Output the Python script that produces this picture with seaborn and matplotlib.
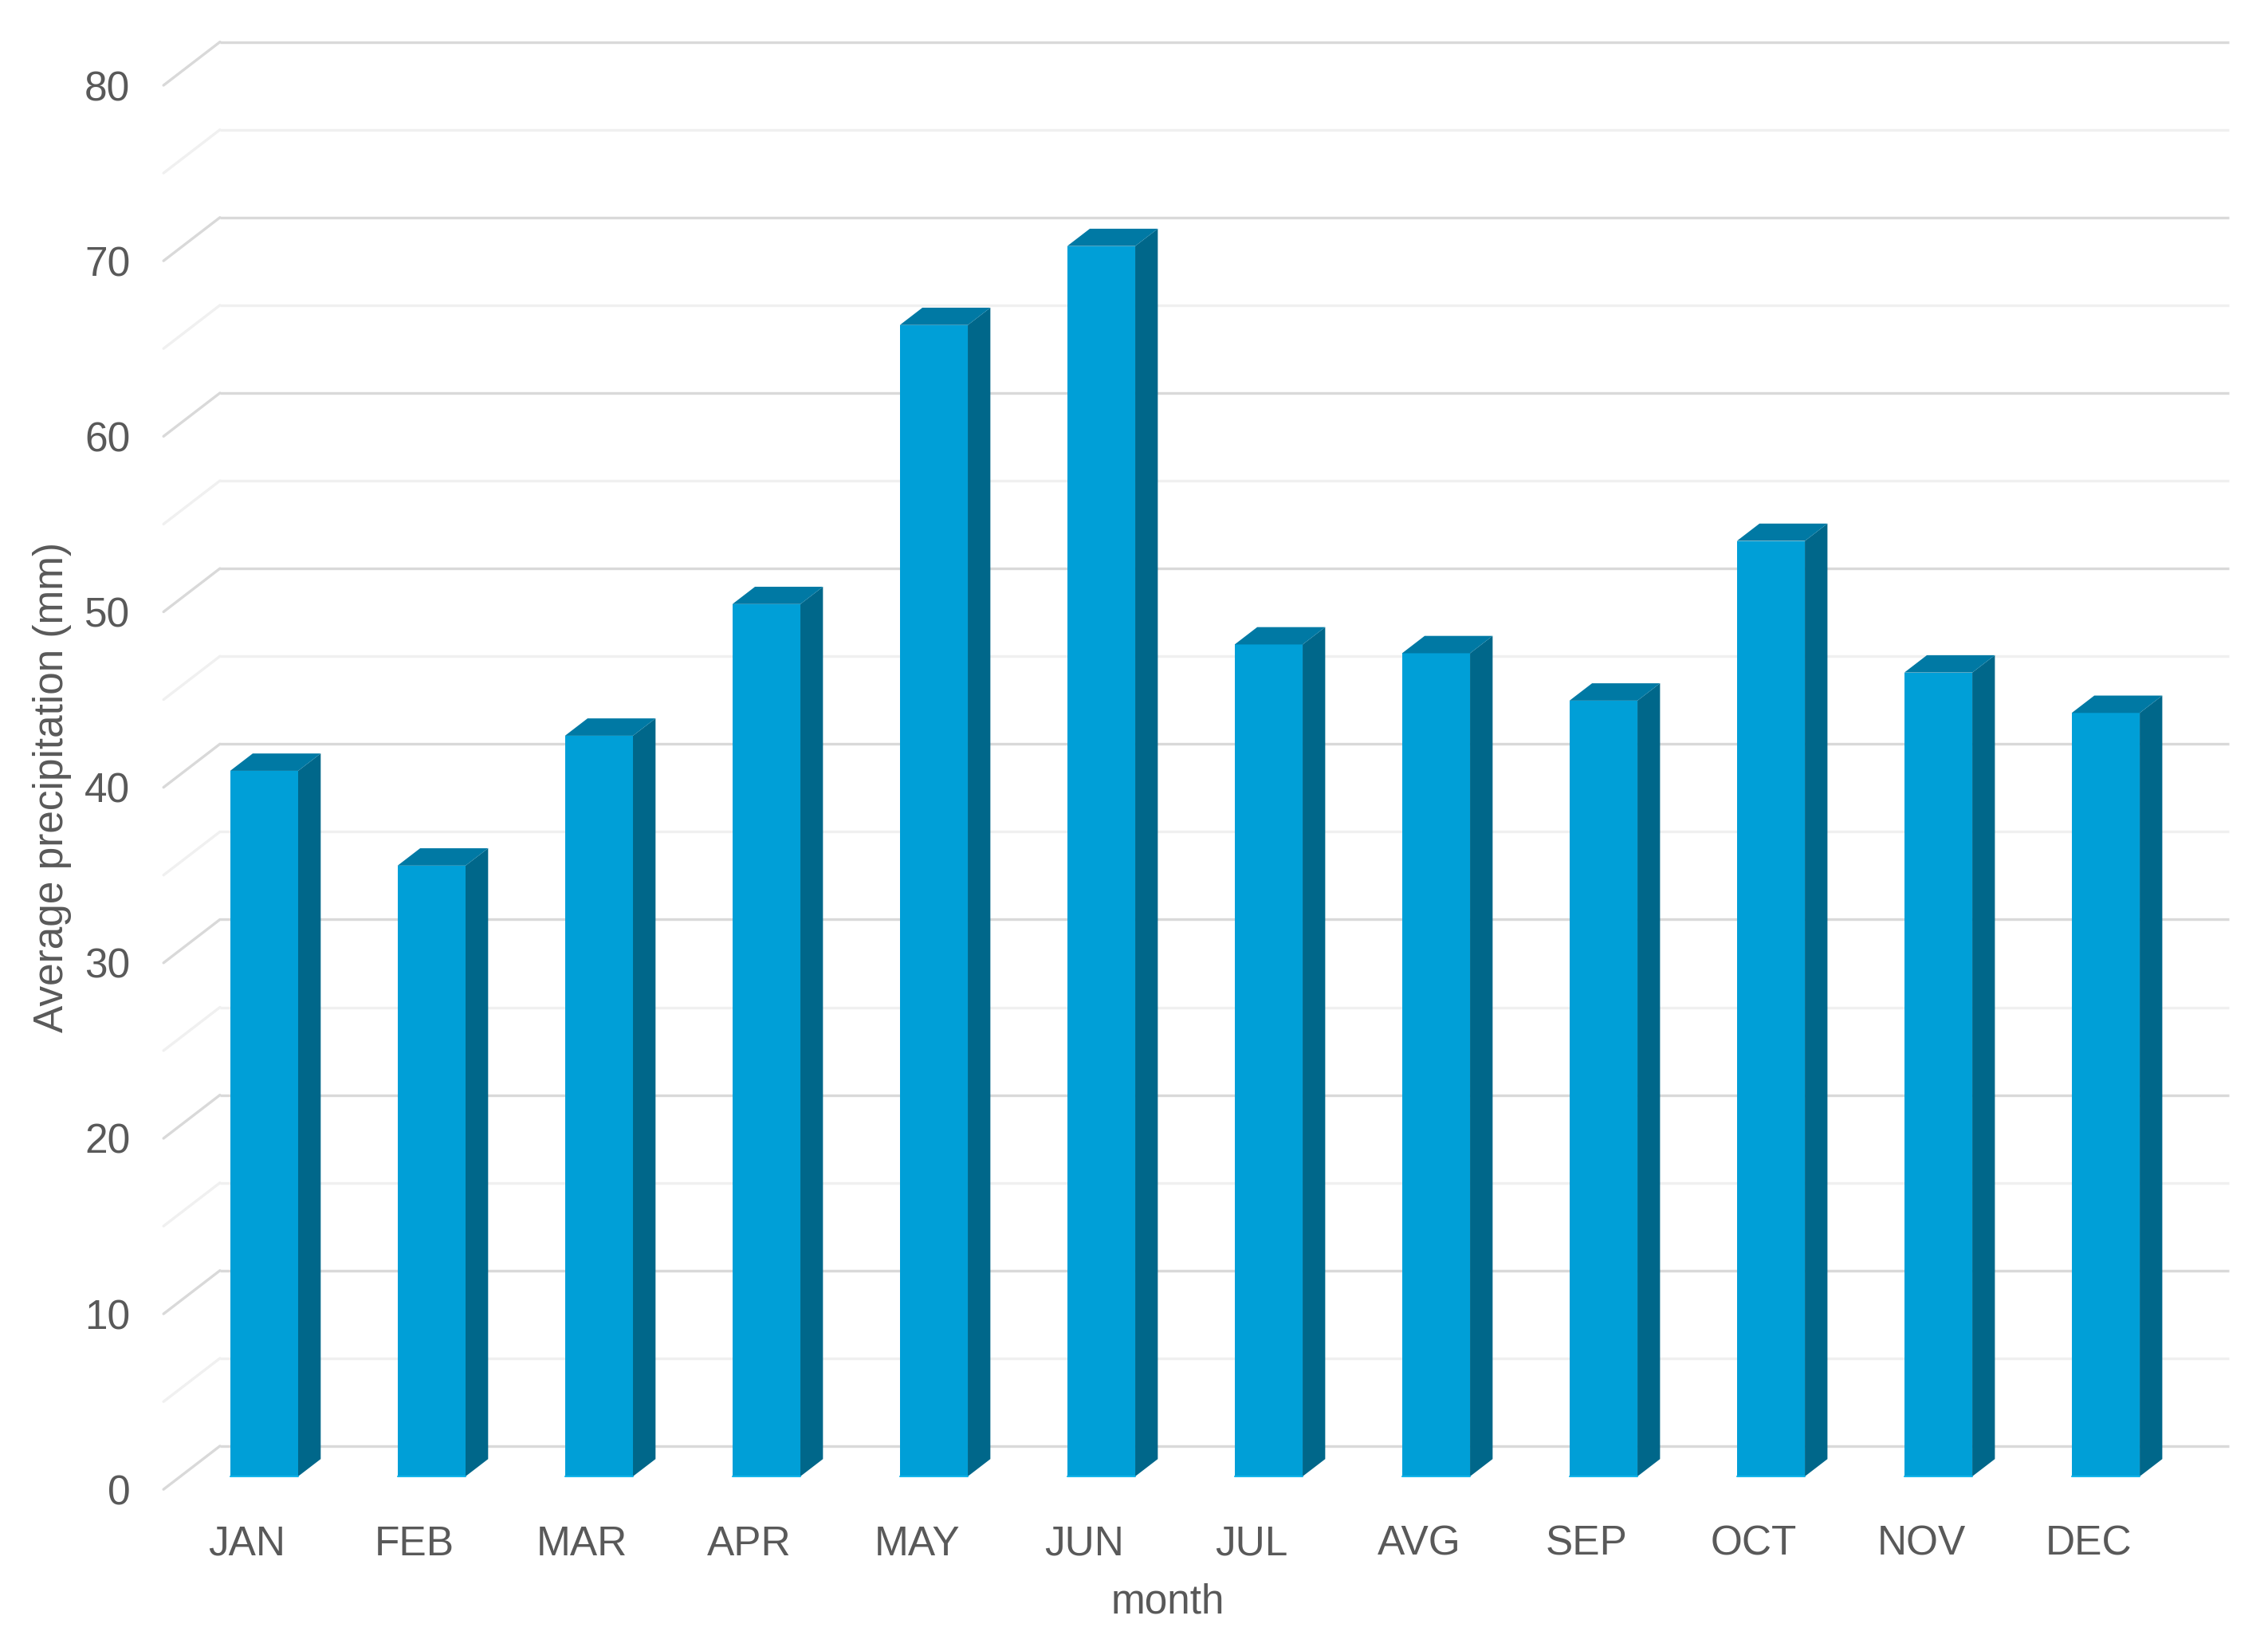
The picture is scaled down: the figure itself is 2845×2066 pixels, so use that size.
import matplotlib
matplotlib.use("Agg")
import matplotlib.pyplot as plt
import seaborn as sns

# data
months = ["JAN", "FEB", "MAR", "APR", "MAY", "JUN",
          "JUL", "AVG", "SEP", "OCT", "NOV", "DEC"]
precip = [40.2, 34.8, 42.2, 49.7, 65.6, 70.1,
          47.4, 46.9, 44.2, 53.3, 45.8, 43.5]
y_ticks = [0, 10, 20, 30, 40, 50, 60, 70, 80]

# colours
FRONT = "#009FD7"
SIDE = "#00678A"
TOP = "#0079A4"
GRID_MAJOR = "#d9d9d9"
GRID_MINOR = "#f0f0f0"
TEXT = "#595959"

# oblique "3D" depth, in data units for a full depth of 1
DX = 0.337
DY = 2.47
BAR_W = 0.406
D0, D1 = 0.3, 0.7  # bar sits between these depth fractions

sns.set_theme(style="white")
plt.rcParams["font.family"] = ["Liberation Sans", "DejaVu Sans"]

fig = plt.figure(figsize=(28.45, 20.66), dpi=100)
ax = fig.add_axes([0.0721, 0.0957, 0.8858, 0.8525])

sns.barplot(x=months, y=precip, color=FRONT, width=BAR_W,
            saturation=1, ax=ax, zorder=3)

ax.set_xlim(-0.5, 11.5)
ax.set_ylim(0, 80)

# back wall + left wall gridlines
for v in range(0, 81, 5):
    c = GRID_MAJOR if v % 10 == 0 else GRID_MINOR
    ax.plot([-0.5 + DX, 11.5 + DX], [v + DY, v + DY], color=c, lw=2.4,
            zorder=1, clip_on=False, solid_capstyle="butt")
    ax.plot([-0.5, -0.5 + DX], [v, v + DY], color=c, lw=2.4,
            zorder=1, clip_on=False, solid_capstyle="round")

# push front faces back to the bar plane and add top/side faces
for p in ax.patches:
    x0 = p.get_x() + D0 * DX
    y0 = D0 * DY
    w = p.get_width()
    h = p.get_height()
    p.set_x(x0)
    p.set_y(y0)
    p.set_edgecolor("none")
    p.set_clip_on(False)
    dx = (D1 - D0) * DX
    dy = (D1 - D0) * DY
    ax.fill([x0 + w, x0 + w + dx, x0 + w + dx, x0 + w],
            [y0, y0 + dy, y0 + h + dy, y0 + h],
            color=SIDE, zorder=3, clip_on=False, lw=0)
    ax.fill([x0, x0 + w, x0 + w + dx, x0 + dx],
            [y0 + h, y0 + h, y0 + h + dy, y0 + h + dy],
            color=TOP, zorder=3, clip_on=False, lw=0)
    ax.plot([x0, x0 + w], [y0, y0], color="#12B4EA", lw=1.5, zorder=4,
            clip_on=False)

sns.despine(ax=ax, left=True, bottom=True)
ax.set_yticks(y_ticks)
ax.tick_params(axis="both", length=0, labelsize=37, colors=TEXT)
ax.tick_params(axis="y", pad=30)
ax.tick_params(axis="x", pad=32)
ax.set_xlabel("month", fontsize=37, color=TEXT, labelpad=17)
ax.set_ylabel("Average precipitation (mm)", fontsize=37, color=TEXT,
              labelpad=12)
ax.grid(False)

fig.savefig("out.png", dpi=100, facecolor="white")
